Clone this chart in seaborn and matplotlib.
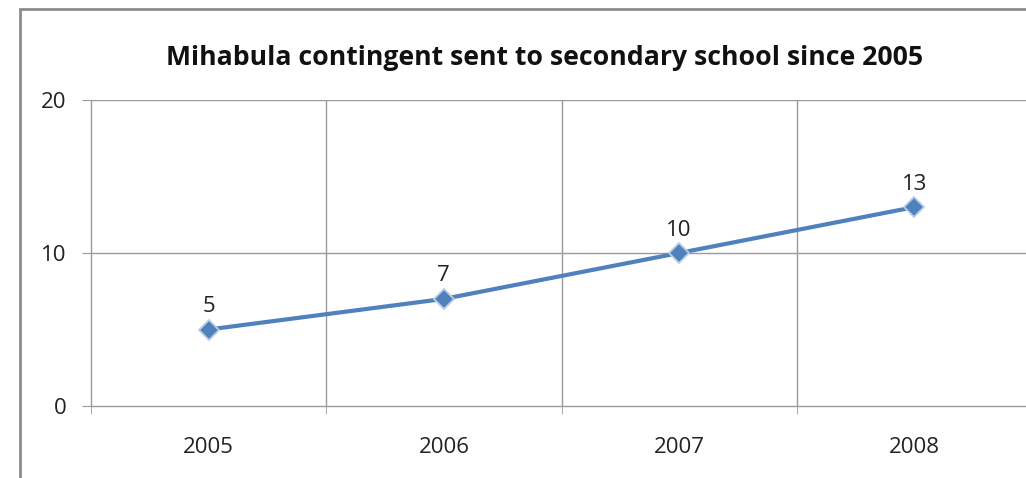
import matplotlib
matplotlib.use("Agg")
import matplotlib.pyplot as plt
import matplotlib.patches as mpatches
import seaborn as sns
import pandas as pd

# --- data ---
years = ["2005", "2006", "2007", "2008"]
students = [5, 7, 10, 13]
y_ticks = [0, 10, 20]

df = pd.DataFrame({"year": years, "students": students})

sns.set_style("white")
plt.rcParams["font.family"] = ["Open Sans", "DejaVu Sans"]

fig = plt.figure(figsize=(10.26, 4.78), dpi=100)
# plot area, the right edge runs slightly past the picture like the source crop
ax = fig.add_axes([91 / 1026, 1 - 406 / 478, (1032 - 91) / 1026, (406 - 100) / 478])

sns.lineplot(data=df, x="year", y="students", ax=ax, color="#4F81BD",
             linewidth=3, marker="D", markersize=10, markerfacecolor="#4F81BD",
             markeredgecolor="#B9CDE5", markeredgewidth=1.3, sort=False)

for i, v in enumerate(students):
    ax.annotate(str(v), (i, v), xytext=(0, 9), textcoords="offset points",
                ha="center", va="bottom", fontsize=16, color="#222222")

ax.set_xlim(-0.5, 3.5)
ax.set_ylim(0, 20)
ax.set_yticks(y_ticks)
ax.set_xticks(range(len(years)))
ax.set_xticklabels(years)
ax.set_xlabel("")
ax.set_ylabel("")

# category boundary gridlines
for b in [0.5, 1.5, 2.5]:
    ax.axvline(b, color="#9A9A9A", linewidth=1, zorder=0)
for t in y_ticks[1:]:
    ax.axhline(t, color="#9A9A9A", linewidth=1, zorder=0)

for s in ["top", "right"]:
    ax.spines[s].set_visible(False)
for s in ["left", "bottom"]:
    ax.spines[s].set_color("#9A9A9A")
    ax.spines[s].set_linewidth(1)

# boundary tick marks below the x axis, major ticks hidden
ax.set_xticks([-0.5, 0.5, 1.5, 2.5], minor=True)
ax.tick_params(axis="x", which="minor", length=6, color="#9A9A9A", bottom=True)
ax.tick_params(axis="x", which="major", length=0, pad=22, labelsize=16, labelcolor="#222222")
ax.tick_params(axis="y", length=6.5, color="#9A9A9A", left=True, pad=11,
               labelsize=16, labelcolor="#222222")

fig.text(545 / 1026, 1 - 58 / 478, "Mihabula contingent sent to secondary school since 2005",
         ha="center", va="center", fontsize=19.2, fontweight="bold", color="#111111")

# outer chart frame, cut off on the right and bottom
frame = mpatches.Rectangle((20 / 1026, -0.1), 1.2, 1 - 9 / 478 + 0.1,
                           transform=fig.transFigure, fill=False,
                           edgecolor="#8C8C8C", linewidth=2)
fig.patches.append(frame)

fig.savefig("out.png", dpi=100)
